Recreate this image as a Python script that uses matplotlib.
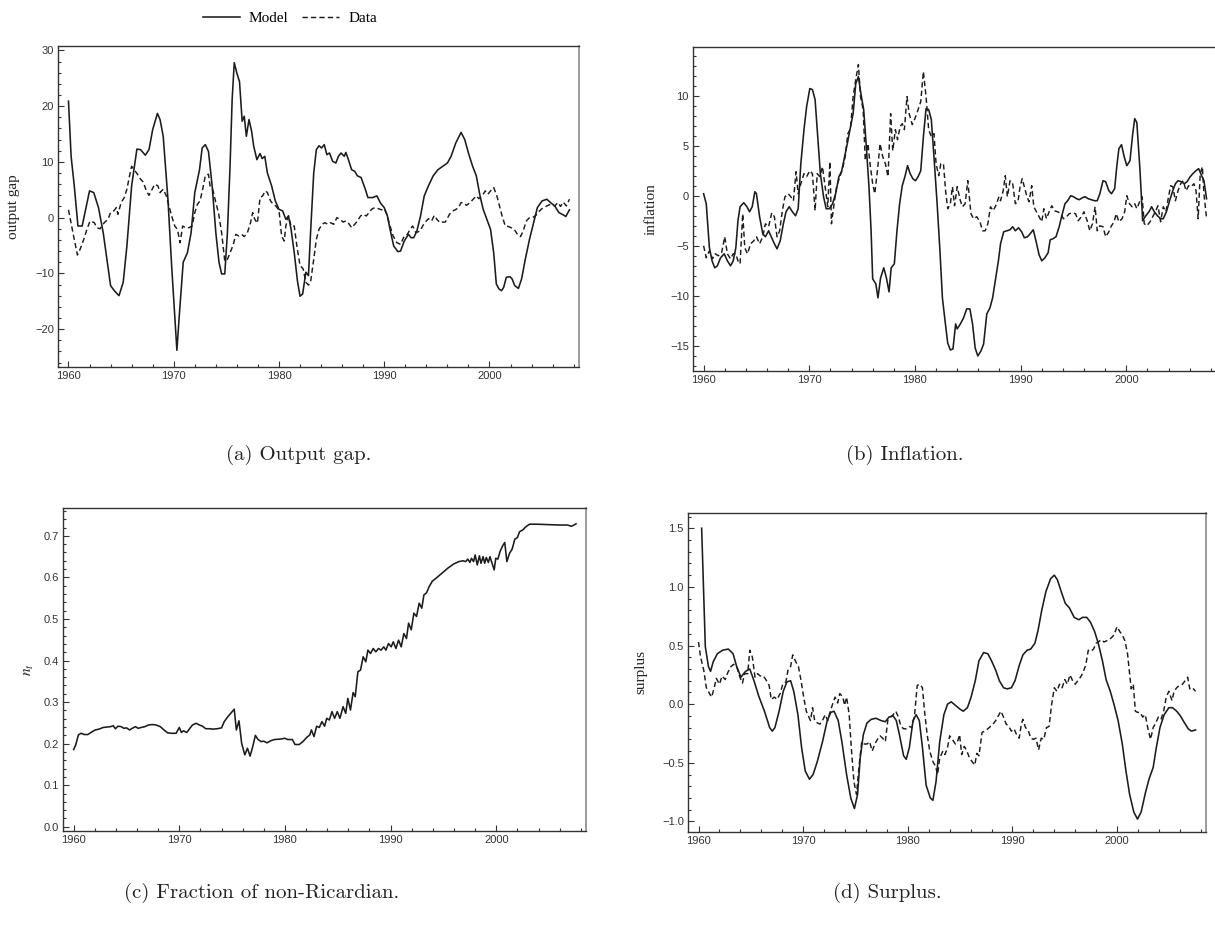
import matplotlib
matplotlib.use("Agg")
import matplotlib.pyplot as plt
from matplotlib.ticker import MultipleLocator

# (a) output gap
gap_model_t = [1960.0, 1960.25, 1960.55, 1960.9, 1961.3, 1962.0, 1962.4, 1962.85, 1963.3, 1964.0,
               1964.35, 1964.8, 1965.2, 1965.55, 1966.0, 1966.5, 1966.85, 1967.3, 1967.65, 1968.0,
               1968.45, 1968.7, 1969.0, 1969.45, 1969.8, 1970.3, 1970.55, 1970.9, 1971.3, 1971.65,
               1972.0, 1972.45, 1972.7, 1973.0, 1973.3, 1973.65, 1974.0, 1974.3, 1974.55, 1974.85,
               1975.1, 1975.35, 1975.55, 1975.75, 1976.0, 1976.25, 1976.5, 1976.7, 1976.9, 1977.15,
               1977.4, 1977.6, 1977.9, 1978.2, 1978.4, 1978.65, 1978.9, 1979.3, 1979.65, 1980.0,
               1980.35, 1980.65, 1980.9, 1981.15, 1981.45, 1981.75, 1982.0, 1982.25, 1982.55, 1982.8,
               1983.0, 1983.3, 1983.55, 1983.8, 1984.05, 1984.3, 1984.55, 1984.8, 1985.1, 1985.4,
               1985.65, 1985.9, 1986.2, 1986.35, 1986.6, 1986.9, 1987.2, 1987.45, 1987.8, 1988.2,
               1988.45, 1988.9, 1989.3, 1989.65, 1990.0, 1990.3, 1990.55, 1990.9, 1991.3, 1991.55,
               1991.9, 1992.3, 1992.55, 1992.8, 1993.1, 1993.45, 1993.8, 1994.2, 1994.65, 1995.1,
               1995.55, 1996.0, 1996.35, 1996.8, 1997.3, 1997.65, 1998.0, 1998.4, 1998.75, 1999.1,
               1999.4, 1999.75, 2000.1, 2000.4, 2000.65, 2000.9, 2001.15, 2001.35, 2001.6, 2001.95,
               2002.15, 2002.4, 2002.75, 2003.05, 2003.4, 2003.8, 2004.2, 2004.55, 2005.0, 2005.45,
               2005.8, 2006.2, 2006.6, 2007.1, 2007.25, 2007.6]
gap_model = [20.9, 11.0, 5.7, -1.5, -1.5, 4.8, 4.5, 1.8, -2.7, -12.2,
             -13.1, -14.0, -11.6, -5.1, 5.7, 12.3, 12.2, 11.2, 12.2, 15.8,
             18.7, 17.6, 14.6, 3.3, -8.6, -23.8, -17.0, -8.0, -6.3, -2.7,
             4.5, 8.6, 12.5, 13.1, 11.9, 5.7, -2.7, -8.0, -10.1, -10.1,
             -2.7, 9.2, 21.2, 27.8, 25.9, 24.4, 17.3, 18.2, 14.6, 17.6,
             15.5, 12.8, 10.4, 11.5, 10.6, 11.0, 8.0, 5.7, 3.0, 1.5,
             1.2, -0.3, 0.3, -2.1, -6.3, -11.3, -14.1, -13.7, -9.8, -10.4,
             -2.7, 8.0, 12.2, 12.9, 12.5, 13.1, 11.3, 11.6, 10.1, 9.8,
             11.0, 11.6, 11.0, 11.7, 10.4, 8.6, 8.3, 7.5, 7.2, 5.1,
             3.6, 3.6, 3.9, 2.6, 1.8, 0.3, -2.1, -5.1, -6.1, -6.0,
             -4.2, -3.0, -3.6, -3.6, -2.4, 0.3, 3.9, 5.7, 7.5, 8.6,
             9.2, 9.8, 11.0, 13.4, 15.3, 14.0, 11.6, 9.2, 7.5, 3.9,
             1.5, -0.3, -2.1, -6.3, -11.9, -12.8, -13.1, -12.5, -10.7, -10.6,
             -11.0, -12.2, -12.7, -11.0, -7.5, -3.9, -0.9, 1.8, 3.0, 3.3,
             2.7, 2.1, 0.9, 0.4, 0.2, 1.4]

gap_data_t = [1960.0, 1960.3, 1960.55, 1960.85, 1961.1, 1961.45, 1961.75, 1962.05, 1962.45, 1962.7,
              1963.0, 1963.4, 1963.75, 1964.0, 1964.3, 1964.55, 1964.7, 1965.0, 1965.3, 1965.55,
              1965.8, 1966.0, 1966.25, 1966.55, 1966.85, 1967.1, 1967.4, 1967.65, 1967.95, 1968.2,
              1968.5, 1968.7, 1969.0, 1969.3, 1969.55, 1969.8, 1970.1, 1970.35, 1970.6, 1970.85,
              1971.1, 1971.45, 1971.75, 1972.0, 1972.25, 1972.5, 1972.75, 1973.0, 1973.3, 1973.45,
              1973.7, 1974.0, 1974.25, 1974.55, 1974.85, 1975.1, 1975.35, 1975.65, 1975.9, 1976.2,
              1976.45, 1976.7, 1977.0, 1977.3, 1977.5, 1977.7, 1977.95, 1978.2, 1978.45, 1978.7,
              1978.9, 1979.2, 1979.45, 1979.7, 1980.0, 1980.25, 1980.5, 1980.65, 1980.9, 1981.15,
              1981.45, 1981.7, 1982.0, 1982.3, 1982.55, 1982.8, 1983.0, 1983.3, 1983.55, 1983.8,
              1984.1, 1984.35, 1984.65, 1984.9, 1985.2, 1985.5, 1985.8, 1986.1, 1986.35, 1986.6,
              1986.9, 1987.2, 1987.45, 1987.75, 1988.0, 1988.3, 1988.55, 1988.8, 1989.1, 1989.45,
              1989.75, 1990.0, 1990.25, 1990.55, 1990.85, 1991.2, 1991.55, 1991.9, 1992.2, 1992.45,
              1992.7, 1993.0, 1993.4, 1993.65, 1993.9, 1994.2, 1994.5, 1994.75, 1995.0, 1995.3,
              1995.55, 1995.8, 1996.2, 1996.5, 1996.75, 1997.05, 1997.3, 1997.6, 1997.8, 1998.1,
              1998.45, 1998.75, 1999.0, 1999.3, 1999.6, 1999.85, 2000.1, 2000.4, 2000.7, 2000.95,
              2001.2, 2001.5, 2001.8, 2002.05, 2002.35, 2002.65, 2002.95, 2003.2, 2003.5, 2003.8,
              2004.1, 2004.4, 2004.75, 2005.1, 2005.45, 2005.8, 2006.2, 2006.5, 2006.75, 2007.0,
              2007.3, 2007.6]
gap_data = [1.4, -1.5, -3.9, -6.7, -5.7, -3.9, -2.1, -0.6, -0.9, -1.8,
            -2.0, -0.9, -0.3, 0.9, 1.2, 1.8, 0.6, 2.7, 3.6, 5.1,
            7.5, 9.2, 8.6, 7.8, 6.9, 6.4, 4.8, 4.0, 5.1, 6.0,
            5.7, 4.5, 5.1, 3.9, 2.1, 0.3, -1.5, -2.1, -4.5, -1.5,
            -1.8, -1.8, -1.5, 0.9, 2.4, 3.0, 5.1, 7.5, 7.8, 5.7,
            5.1, 2.7, 0.9, -2.7, -7.8, -7.5, -6.3, -4.9, -3.0, -3.3,
            -3.0, -3.4, -2.7, -0.9, 0.9, -0.3, -1.0, 3.6, 3.9, 4.8,
            4.5, 3.0, 2.4, 2.1, 1.3, -3.3, -4.2, -1.5, 0.3, -1.5,
            -1.5, -5.1, -8.6, -9.2, -11.6, -12.1, -11.6, -7.5, -3.9, -2.1,
            -1.2, -0.9, -1.2, -0.9, -1.2, 0.0, -0.3, -0.8, -0.6, -1.0,
            -1.8, -1.2, -0.6, 0.3, 0.6, 0.3, 0.9, 1.5, 1.8, 1.6,
            1.4, 1.6, 0.6, -1.5, -3.3, -4.5, -4.8, -3.3, -3.0, -2.1,
            -1.5, -2.7, -2.4, -1.5, -0.8, -0.2, -0.6, 0.4, -0.3, -0.9,
            -0.8, -0.8, 0.6, 1.2, 1.4, 1.8, 2.7, 2.6, 2.2, 2.6,
            3.3, 3.9, 3.4, 3.9, 4.8, 4.2, 4.8, 5.4, 3.9, 2.1,
            0.3, -1.5, -1.6, -1.8, -2.1, -3.0, -3.4, -2.4, -0.6, 0.0,
            0.0, 0.4, 1.2, 1.8, 2.1, 2.4, 2.1, 2.7, 2.0, 2.8,
            2.1, 3.3]

# (b) inflation
infl_model_t = [1960.0, 1960.25, 1960.55, 1960.8, 1961.05, 1961.3, 1961.6, 1961.95, 1962.25, 1962.55,
                1962.8, 1963.05, 1963.25, 1963.45, 1963.8, 1964.1, 1964.35, 1964.6, 1964.85, 1965.0,
                1965.3, 1965.6, 1965.85, 1966.15, 1966.4, 1966.7, 1966.95, 1967.25, 1967.55, 1967.8,
                1968.1, 1968.4, 1968.7, 1968.95, 1969.2, 1969.5, 1969.75, 1970.05, 1970.3, 1970.55,
                1970.8, 1971.05, 1971.35, 1971.6, 1971.9, 1972.2, 1972.5, 1972.8, 1973.05, 1973.35,
                1973.6, 1973.85, 1974.15, 1974.4, 1974.65, 1974.9, 1975.15, 1975.4, 1975.65, 1975.85,
                1976.0, 1976.3, 1976.5, 1976.75, 1977.05, 1977.3, 1977.55, 1977.75, 1978.05, 1978.3,
                1978.55, 1978.8, 1979.05, 1979.3, 1979.55, 1979.8, 1980.05, 1980.3, 1980.55, 1980.8,
                1981.05, 1981.3, 1981.55, 1981.8, 1982.1, 1982.35, 1982.6, 1982.85, 1983.1, 1983.35,
                1983.6, 1983.85, 1984.0, 1984.3, 1984.6, 1984.9, 1985.2, 1985.45, 1985.7, 1985.95,
                1986.25, 1986.5, 1986.8, 1987.1, 1987.35, 1987.65, 1987.9, 1988.1, 1988.4, 1988.7,
                1989.0, 1989.25, 1989.5, 1989.8, 1990.1, 1990.35, 1990.65, 1990.9, 1991.2, 1991.45,
                1991.75, 1992.0, 1992.3, 1992.6, 1992.8, 1993.05, 1993.35, 1993.65, 1993.9, 1994.2,
                1994.45, 1994.75, 1995.0, 1995.3, 1995.55, 1995.85, 1996.1, 1996.4, 1996.7, 1997.0,
                1997.25, 1997.5, 1997.8, 1998.05, 1998.35, 1998.6, 1998.9, 1999.1, 1999.3, 1999.55,
                1999.8, 2000.05, 2000.35, 2000.6, 2000.8, 2001.0, 2001.3, 2001.55, 2001.85, 2002.15,
                2002.4, 2002.65, 2002.95, 2003.25, 2003.5, 2003.8, 2004.1, 2004.4, 2004.65, 2004.9,
                2005.2, 2005.5, 2005.75, 2006.05, 2006.3, 2006.6, 2006.85, 2007.05, 2007.35, 2007.6]
infl_model = [0.2, -0.8, -5.2, -6.5, -7.2, -7.0, -6.2, -5.8, -6.5, -7.0,
              -6.5, -5.2, -2.5, -1.1, -0.7, -1.1, -1.6, -1.1, 0.4, 0.2,
              -2.1, -3.8, -4.1, -3.5, -4.1, -4.8, -5.3, -4.5, -2.8, -1.6,
              -1.1, -1.6, -2.0, -1.3, 3.2, 6.6, 8.9, 10.7, 10.6, 9.6,
              5.9, 2.2, -0.1, -1.3, -1.3, -0.8, 0.2, 1.9, 2.4, 3.9,
              5.2, 6.6, 8.2, 11.2, 11.9, 10.1, 8.6, 4.9, 0.9, -3.5,
              -8.3, -8.8, -10.2, -8.2, -7.2, -8.2, -9.6, -7.2, -6.8, -3.5,
              -0.8, 1.0, 1.9, 3.0, 2.2, 1.7, 1.5, 1.9, 2.5, 5.9,
              8.7, 8.6, 7.6, 3.9, -0.8, -5.2, -10.2, -12.5, -14.7, -15.4,
              -15.3, -12.8, -13.3, -12.8, -12.2, -11.3, -11.3, -12.8, -15.2, -16.0,
              -15.5, -14.8, -11.8, -11.2, -10.2, -8.2, -6.5, -4.8, -3.6, -3.5,
              -3.4, -3.1, -3.5, -3.2, -3.6, -4.2, -4.1, -3.8, -3.4, -4.5,
              -5.9, -6.5, -6.2, -5.7, -4.4, -4.3, -4.1, -3.1, -2.0, -0.8,
              -0.5, 0.0, -0.1, -0.3, -0.4, -0.2, -0.1, -0.3, -0.4, -0.5,
              -0.5, 0.2, 1.5, 1.4, 0.5, 0.2, 0.7, 2.9, 4.7, 5.1,
              3.9, 3.0, 3.5, 6.1, 7.7, 7.3, 2.5, -2.5, -2.0, -1.6,
              -1.1, -1.6, -2.0, -2.3, -2.3, -1.6, -0.5, 0.5, 1.2, 1.5,
              1.4, 1.2, 1.4, 1.9, 2.2, 2.5, 2.7, 2.2, 1.5, -0.3]

infl_data_t = [1960.0, 1960.25, 1960.55, 1960.85, 1961.1, 1961.4, 1961.7, 1962.0, 1962.25, 1962.55,
               1962.8, 1963.05, 1963.25, 1963.45, 1963.7, 1963.9, 1964.15, 1964.45, 1964.75, 1965.0,
               1965.3, 1965.6, 1965.85, 1966.15, 1966.45, 1966.7, 1966.95, 1967.2, 1967.45, 1967.7,
               1968.0, 1968.25, 1968.5, 1968.75, 1968.95, 1969.2, 1969.5, 1969.75, 1970.05, 1970.3,
               1970.55, 1970.75, 1971.0, 1971.25, 1971.5, 1971.75, 1971.95, 1972.1, 1972.35, 1972.6,
               1972.9, 1973.15, 1973.4, 1973.65, 1973.9, 1974.15, 1974.4, 1974.65, 1974.85, 1975.1,
               1975.3, 1975.55, 1975.75, 1976.0, 1976.2, 1976.45, 1976.7, 1976.95, 1977.2, 1977.45,
               1977.7, 1977.9, 1978.15, 1978.35, 1978.6, 1978.8, 1979.0, 1979.25, 1979.45, 1979.75,
               1980.0, 1980.3, 1980.55, 1980.8, 1981.05, 1981.3, 1981.55, 1981.8, 1982.0, 1982.25,
               1982.45, 1982.7, 1982.9, 1983.1, 1983.35, 1983.55, 1983.75, 1984.0, 1984.3, 1984.5,
               1984.75, 1985.0, 1985.3, 1985.55, 1985.85, 1986.15, 1986.4, 1986.65, 1986.9, 1987.15,
               1987.4, 1987.65, 1987.95, 1988.1, 1988.35, 1988.55, 1988.75, 1989.0, 1989.25, 1989.5,
               1989.75, 1989.95, 1990.15, 1990.35, 1990.6, 1990.8, 1991.05, 1991.25, 1991.45, 1991.75,
               1992.0, 1992.2, 1992.45, 1992.7, 1992.95, 1993.2, 1993.5, 1993.8, 1994.05, 1994.35,
               1994.6, 1994.9, 1995.2, 1995.45, 1995.75, 1996.0, 1996.3, 1996.55, 1996.8, 1997.05,
               1997.25, 1997.5, 1997.8, 1998.05, 1998.35, 1998.6, 1998.85, 1999.05, 1999.3, 1999.6,
               1999.85, 2000.05, 2000.3, 2000.55, 2000.8, 2001.0, 2001.3, 2001.5, 2001.7, 2001.95,
               2002.25, 2002.5, 2002.75, 2003.0, 2003.25, 2003.5, 2003.75, 2004.0, 2004.2, 2004.4,
               2004.65, 2004.9, 2005.15, 2005.4, 2005.65, 2005.9, 2006.15, 2006.4, 2006.6, 2006.8,
               2007.0, 2007.2, 2007.35, 2007.6]
infl_data = [-5.0, -6.2, -5.5, -6.3, -5.8, -6.0, -5.7, -4.1, -5.8, -6.3,
             -5.8, -5.8, -6.5, -6.8, -1.8, -5.2, -5.8, -4.8, -4.5, -4.1,
             -4.8, -4.1, -2.8, -3.1, -1.7, -2.1, -4.1, -3.5, -1.5, -0.1,
             0.2, -0.1, -0.5, 2.4, 0.2, 1.2, 2.2, 1.9, 2.5, 2.2,
             -1.5, 2.2, 1.9, 2.9, 0.9, -1.1, 3.4, -2.8, -0.8, 1.0,
             1.9, 2.7, 3.9, 6.2, 6.7, 9.9, 11.6, 13.1, 9.9, 8.6,
             3.5, 5.2, 3.2, 1.2, 0.2, 2.5, 5.2, 3.9, 3.2, 1.9,
             8.2, 4.5, 6.6, 5.6, 6.9, 7.2, 6.6, 9.9, 8.2, 7.1,
             7.7, 8.6, 9.4, 12.4, 9.9, 6.6, 5.9, 6.2, 3.2, 2.0,
             3.2, 3.2, 0.5, -1.3, -0.8, 0.9, -1.0, 0.9, -0.5, -1.1,
             -0.8, 1.5, -1.8, -2.3, -2.1, -2.6, -3.5, -3.5, -2.8, -1.1,
             -1.5, -1.0, -0.1, -0.5, 0.5, 2.0, -0.1, 1.5, 1.2, -0.8,
             -0.6, 0.9, 1.7, 0.9, -0.1, -0.6, 1.0, -1.1, -1.5, -2.1,
             -2.6, -1.3, -2.3, -1.6, -1.0, -1.5, -1.6, -1.8, -2.3, -2.1,
             -1.8, -1.7, -1.8, -2.5, -2.1, -1.6, -2.5, -3.5, -2.8, -1.1,
             -3.5, -3.0, -3.1, -4.1, -3.6, -3.0, -2.6, -1.8, -2.6, -2.3,
             -1.6, 0.0, -0.8, -1.1, -0.8, -1.3, -0.5, -0.1, -2.8, -3.0,
             -2.6, -2.1, -1.6, -1.0, -2.6, -1.1, -1.6, -0.1, 1.0, 0.9,
             -0.5, 0.5, 1.2, 1.5, 0.5, 1.0, 0.9, 1.2, 0.5, -2.3,
             2.2, 2.9, 0.2, -2.3]

# (c) fraction of non-Ricardian households
nr_t = [1960.0, 1960.2, 1960.45, 1960.7, 1961.0, 1961.35, 1961.7, 1962.05, 1962.4, 1962.8,
        1963.15, 1963.5, 1963.75, 1963.95, 1964.2, 1964.5, 1964.75, 1965.0, 1965.3, 1965.55,
        1965.85, 1966.1, 1966.4, 1966.75, 1967.1, 1967.45, 1967.8, 1968.2, 1968.55, 1968.9,
        1969.25, 1969.7, 1970.0, 1970.2, 1970.4, 1970.7, 1971.0, 1971.25, 1971.6, 1971.9,
        1972.2, 1972.5, 1972.85, 1973.2, 1973.6, 1974.0, 1974.25, 1974.6, 1974.9, 1975.2,
        1975.4, 1975.65, 1975.9, 1976.2, 1976.45, 1976.7, 1976.95, 1977.2, 1977.45, 1977.75,
        1978.0, 1978.3, 1978.65, 1979.0, 1979.55, 1980.0, 1980.25, 1980.7, 1980.95, 1981.35,
        1981.7, 1982.05, 1982.35, 1982.5, 1982.75, 1983.0, 1983.25, 1983.5, 1983.75, 1983.95,
        1984.2, 1984.45, 1984.7, 1984.95, 1985.2, 1985.5, 1985.75, 1985.95, 1986.2, 1986.45,
        1986.65, 1986.9, 1987.15, 1987.4, 1987.65, 1987.85, 1988.1, 1988.35, 1988.6, 1988.85,
        1989.1, 1989.35, 1989.55, 1989.8, 1990.05, 1990.25, 1990.5, 1990.75, 1991.0, 1991.25,
        1991.5, 1991.7, 1991.95, 1992.2, 1992.45, 1992.7, 1992.95, 1993.15, 1993.4, 1993.65,
        1993.95, 1994.3, 1994.85, 1995.4, 1995.95, 1996.45, 1996.85, 1997.1, 1997.3, 1997.5,
        1997.65, 1997.85, 1998.0, 1998.2, 1998.4, 1998.55, 1998.75, 1998.9, 1999.05, 1999.25,
        1999.4, 1999.6, 1999.8, 1999.95, 2000.15, 2000.35, 2000.6, 2000.8, 2001.0, 2001.25,
        2001.5, 2001.75, 2002.0, 2002.2, 2002.5, 2002.8, 2003.15, 2003.85, 2004.95, 2006.0,
        2006.75, 2007.1, 2007.35, 2007.55]
nr_share = [0.186, 0.197, 0.221, 0.225, 0.222, 0.222, 0.228, 0.233, 0.235, 0.239,
            0.240, 0.241, 0.243, 0.236, 0.242, 0.241, 0.237, 0.238, 0.233, 0.237,
            0.241, 0.237, 0.239, 0.241, 0.245, 0.246, 0.245, 0.241, 0.233, 0.226,
            0.225, 0.225, 0.239, 0.227, 0.231, 0.227, 0.237, 0.245, 0.249, 0.245,
            0.242, 0.236, 0.236, 0.235, 0.236, 0.238, 0.253, 0.265, 0.274, 0.283,
            0.233, 0.255, 0.201, 0.173, 0.189, 0.170, 0.193, 0.220, 0.210, 0.205,
            0.206, 0.202, 0.207, 0.210, 0.211, 0.213, 0.210, 0.210, 0.198, 0.198,
            0.205, 0.215, 0.221, 0.233, 0.217, 0.242, 0.239, 0.253, 0.242, 0.261,
            0.257, 0.277, 0.261, 0.277, 0.261, 0.289, 0.273, 0.309, 0.281, 0.323,
            0.313, 0.373, 0.377, 0.409, 0.397, 0.425, 0.417, 0.429, 0.421, 0.429,
            0.425, 0.433, 0.425, 0.441, 0.433, 0.445, 0.429, 0.449, 0.433, 0.465,
            0.453, 0.490, 0.474, 0.514, 0.506, 0.538, 0.526, 0.558, 0.563, 0.578,
            0.591, 0.598, 0.610, 0.622, 0.632, 0.638, 0.640, 0.638, 0.644, 0.636,
            0.646, 0.638, 0.654, 0.630, 0.652, 0.634, 0.650, 0.634, 0.648, 0.636,
            0.650, 0.634, 0.618, 0.646, 0.644, 0.662, 0.676, 0.684, 0.638, 0.658,
            0.668, 0.692, 0.696, 0.710, 0.714, 0.722, 0.728, 0.728, 0.727, 0.726,
            0.726, 0.723, 0.726, 0.729]

# (d) surplus
sur_model_t = [1960.3, 1960.5, 1960.65, 1960.95, 1961.15, 1961.4, 1961.8, 1962.3, 1962.85, 1963.3,
               1963.65, 1964.05, 1964.5, 1964.9, 1965.3, 1965.75, 1966.3, 1966.8, 1967.05, 1967.3,
               1967.7, 1968.1, 1968.45, 1968.8, 1969.1, 1969.5, 1969.85, 1970.2, 1970.6, 1970.95,
               1971.35, 1971.85, 1972.3, 1972.65, 1972.95, 1973.35, 1973.7, 1974.15, 1974.55, 1974.9,
               1975.2, 1975.45, 1975.75, 1976.1, 1976.5, 1976.95, 1977.45, 1977.85, 1978.2, 1978.6,
               1978.9, 1979.2, 1979.6, 1979.85, 1980.15, 1980.5, 1980.8, 1981.1, 1981.4, 1981.75,
               1982.15, 1982.4, 1982.7, 1983.05, 1983.45, 1983.8, 1984.15, 1984.55, 1984.95, 1985.3,
               1985.7, 1986.05, 1986.45, 1986.8, 1987.25, 1987.65, 1988.0, 1988.4, 1988.75, 1989.15,
               1989.5, 1989.9, 1990.25, 1990.65, 1991.0, 1991.4, 1991.75, 1992.15, 1992.45, 1992.8,
               1993.2, 1993.65, 1994.0, 1994.3, 1994.7, 1995.05, 1995.45, 1995.9, 1996.35, 1996.7,
               1997.1, 1997.45, 1997.85, 1998.2, 1998.6, 1998.95, 1999.35, 1999.7, 2000.1, 2000.5,
               2000.85, 2001.2, 2001.6, 2001.95, 2002.3, 2002.7, 2003.05, 2003.45, 2003.75, 2004.1,
               2004.5, 2004.95, 2005.3, 2005.7, 2006.05, 2006.45, 2006.8, 2007.1, 2007.5]
sur_model = [1.50, 0.92, 0.49, 0.32, 0.28, 0.36, 0.43, 0.46, 0.47, 0.43,
             0.32, 0.23, 0.28, 0.30, 0.20, 0.07, -0.06, -0.20, -0.23, -0.20,
             -0.06, 0.11, 0.19, 0.20, 0.11, -0.09, -0.37, -0.57, -0.64, -0.60,
             -0.49, -0.32, -0.14, -0.07, -0.06, -0.14, -0.32, -0.60, -0.80, -0.89,
             -0.77, -0.46, -0.26, -0.16, -0.13, -0.12, -0.14, -0.15, -0.11, -0.10,
             -0.14, -0.26, -0.44, -0.47, -0.37, -0.14, -0.09, -0.14, -0.37, -0.69,
             -0.80, -0.82, -0.66, -0.32, -0.09, 0.00, 0.02, -0.01, -0.04, -0.06,
             -0.03, 0.06, 0.20, 0.37, 0.44, 0.43, 0.37, 0.29, 0.20, 0.14,
             0.13, 0.14, 0.20, 0.33, 0.42, 0.46, 0.47, 0.52, 0.63, 0.80,
             0.96, 1.07, 1.10, 1.06, 0.95, 0.86, 0.82, 0.74, 0.72, 0.74,
             0.74, 0.70, 0.62, 0.52, 0.37, 0.21, 0.11, 0.00, -0.14, -0.34,
             -0.57, -0.77, -0.92, -0.98, -0.92, -0.76, -0.64, -0.54, -0.37, -0.20,
             -0.09, -0.03, -0.03, -0.06, -0.10, -0.16, -0.21, -0.23, -0.22]

sur_data_t = [1960.0, 1960.2, 1960.5, 1960.75, 1961.05, 1961.25, 1961.5, 1961.7, 1962.0, 1962.25,
              1962.55, 1962.8, 1963.1, 1963.35, 1963.65, 1963.95, 1964.2, 1964.4, 1964.7, 1964.9,
              1965.15, 1965.4, 1965.65, 1965.9, 1966.2, 1966.5, 1966.75, 1966.95, 1967.25, 1967.5,
              1967.8, 1968.05, 1968.35, 1968.55, 1968.8, 1969.0, 1969.3, 1969.55, 1969.8, 1970.05,
              1970.3, 1970.5, 1970.7, 1970.9, 1971.1, 1971.35, 1971.6, 1971.85, 1972.1, 1972.35,
              1972.6, 1972.85, 1973.05, 1973.3, 1973.5, 1973.8, 1973.95, 1974.15, 1974.4, 1974.6,
              1974.85, 1975.1, 1975.35, 1975.6, 1975.85, 1976.1, 1976.35, 1976.6, 1976.85, 1977.1,
              1977.35, 1977.6, 1977.85, 1978.1, 1978.35, 1978.6, 1978.85, 1979.1, 1979.35, 1979.6,
              1979.85, 1980.15, 1980.4, 1980.65, 1980.9, 1981.15, 1981.4, 1981.6, 1981.85, 1982.1,
              1982.4, 1982.65, 1982.85, 1983.05, 1983.35, 1983.55, 1983.8, 1984.0, 1984.25, 1984.55,
              1984.75, 1984.95, 1985.15, 1985.4, 1985.65, 1985.9, 1986.15, 1986.4, 1986.6, 1986.8,
              1987.1, 1987.35, 1987.65, 1987.9, 1988.15, 1988.4, 1988.65, 1988.9, 1989.15, 1989.4,
              1989.65, 1989.9, 1990.15, 1990.4, 1990.65, 1990.85, 1991.0, 1991.25, 1991.5, 1991.75,
              1992.0, 1992.25, 1992.5, 1992.75, 1993.0, 1993.25, 1993.5, 1993.75, 1994.0, 1994.25,
              1994.5, 1994.75, 1995.0, 1995.25, 1995.5, 1995.75, 1996.0, 1996.25, 1996.5, 1996.7,
              1997.0, 1997.25, 1997.5, 1997.75, 1998.0, 1998.2, 1998.5, 1998.75, 1999.0, 1999.25,
              1999.5, 1999.7, 2000.0, 2000.25, 2000.5, 2000.75, 2001.0, 2001.2, 2001.35, 2001.55,
              2001.75, 2001.95, 2002.2, 2002.45, 2002.7, 2002.95, 2003.2, 2003.45, 2003.7, 2003.95,
              2004.2, 2004.45, 2004.7, 2004.95, 2005.25, 2005.45, 2005.7, 2005.95, 2006.25, 2006.5,
              2006.75, 2006.95, 2007.2, 2007.5]
sur_data = [0.53, 0.40, 0.29, 0.14, 0.09, 0.06, 0.14, 0.22, 0.17, 0.24,
            0.21, 0.27, 0.32, 0.34, 0.32, 0.23, 0.18, 0.26, 0.26, 0.46,
            0.40, 0.23, 0.26, 0.24, 0.24, 0.20, 0.16, 0.04, 0.06, 0.04,
            0.09, 0.17, 0.19, 0.29, 0.32, 0.42, 0.36, 0.32, 0.20, 0.06,
            -0.06, -0.10, -0.14, -0.03, -0.14, -0.16, -0.17, -0.14, -0.09, -0.14,
            -0.06, 0.01, 0.06, 0.01, 0.09, 0.06, -0.01, 0.06, -0.09, -0.37,
            -0.66, -0.77, -0.52, -0.32, -0.34, -0.34, -0.32, -0.40, -0.34, -0.30,
            -0.27, -0.29, -0.32, -0.13, -0.11, -0.09, -0.06, -0.11, -0.19, -0.21,
            -0.21, -0.19, -0.20, -0.09, 0.16, 0.17, 0.14, -0.06, -0.26, -0.40,
            -0.49, -0.53, -0.60, -0.46, -0.40, -0.43, -0.37, -0.27, -0.30, -0.34,
            -0.32, -0.26, -0.43, -0.36, -0.40, -0.46, -0.49, -0.52, -0.42, -0.44,
            -0.24, -0.23, -0.21, -0.19, -0.17, -0.14, -0.10, -0.06, -0.11, -0.17,
            -0.19, -0.23, -0.21, -0.26, -0.29, -0.17, -0.13, -0.20, -0.22, -0.29,
            -0.30, -0.29, -0.39, -0.29, -0.30, -0.20, -0.19, 0.00, 0.14, 0.11,
            0.17, 0.14, 0.21, 0.17, 0.25, 0.20, 0.17, 0.20, 0.23, 0.26,
            0.33, 0.46, 0.45, 0.47, 0.52, 0.53, 0.55, 0.53, 0.54, 0.55,
            0.57, 0.59, 0.66, 0.62, 0.59, 0.54, 0.43, 0.26, 0.13, 0.17,
            -0.06, -0.07, -0.07, -0.11, -0.09, -0.21, -0.30, -0.20, -0.16, -0.11,
            -0.13, -0.06, 0.06, 0.11, 0.03, 0.11, 0.14, 0.16, 0.17, 0.20,
            0.23, 0.13, 0.14, 0.11]

captions = ["(a) Output gap.", "(b) Inflation.", "(c) Fraction of non-Ricardian.", "(d) Surplus."]
ylabels = ["output gap", "inflation", r"$n_t$", "surplus"]

plt.rcParams["mathtext.fontset"] = "stix"

INK = "#1c1c1c"
SOLID = dict(color=INK, lw=1.15, solid_joinstyle="round")
DASHED = dict(color=INK, lw=1.05, dashes=(3.6, 2.2))

fig = plt.figure(figsize=(12.15, 9.27), dpi=100)

boxes = [
    [0.0477, 0.6041, 0.4288, 0.3463],
    [0.5704, 0.5998, 0.4305, 0.3495],
    [0.0519, 0.1036, 0.4305, 0.3484],
    [0.5663, 0.1025, 0.4263, 0.3441],
]
axes = [fig.add_axes(b) for b in boxes]
ax_a, ax_b, ax_c, ax_d = axes

h_model, = ax_a.plot(gap_model_t, gap_model, label="Model", **SOLID)
h_data, = ax_a.plot(gap_data_t, gap_data, label="Data", **DASHED)

ax_b.plot(infl_model_t, infl_model, **SOLID)
ax_b.plot(infl_data_t, infl_data, **DASHED)

ax_c.plot(nr_t, nr_share, **SOLID)

ax_d.plot(sur_model_t, sur_model, **SOLID)
ax_d.plot(sur_data_t, sur_data, **DASHED)

ylims = [(-26.8, 30.8), (-17.5, 14.85), (-0.01, 0.767), (-1.09, 1.63)]
ymajor = [10, 5, 0.1, 0.5]
yminor = [2, 1, 0.02, 0.1]
label_x = [-0.072, -0.067, -0.052, -0.078]

for i, ax in enumerate(axes):
    ax.set_xlim(1959.0, 2008.5)
    ax.set_ylim(*ylims[i])
    ax.xaxis.set_major_locator(MultipleLocator(10))
    ax.xaxis.set_minor_locator(MultipleLocator(2))
    ax.yaxis.set_major_locator(MultipleLocator(ymajor[i]))
    ax.yaxis.set_minor_locator(MultipleLocator(yminor[i]))
    ax.tick_params(which="both", direction="in", color="#333333", width=0.8,
                   top=False, right=False)
    ax.tick_params(which="major", length=4.5, labelsize=8, labelcolor="#333333", pad=3)
    ax.tick_params(which="minor", length=2.5)
    for lab in ax.get_xticklabels() + ax.get_yticklabels():
        lab.set_family("Liberation Sans")
    for side in ["left", "bottom", "top"]:
        ax.spines[side].set_color("#333333")
        ax.spines[side].set_linewidth(1.0)
    ax.spines["right"].set_color("#8a8a8a")
    ax.spines["right"].set_linewidth(1.2)
    ax.set_ylabel(ylabels[i], family="Liberation Serif", fontsize=11, color="#222222")
    ax.yaxis.set_label_coords(label_x[i], 0.5)

# captions under each panel (pixel centres from the reference)
cap_pos = [(299, 455), (905, 455), (262, 893), (887, 893)]
for (px, py), txt in zip(cap_pos, captions):
    fig.text(px / 1215, 1 - py / 927, txt, ha="center", va="center",
             family="cmr10", fontsize=15, color="#222222")

fig.legend(handles=[h_model, h_data], labels=["Model", "Data"], loc="center",
           bbox_to_anchor=(290 / 1215, 1 - 18 / 927), ncol=2, frameon=False,
           prop={"family": "Liberation Serif", "size": 11},
           handlelength=2.4, handletextpad=0.6, columnspacing=0.9)

fig.savefig("out.png", dpi=100)
